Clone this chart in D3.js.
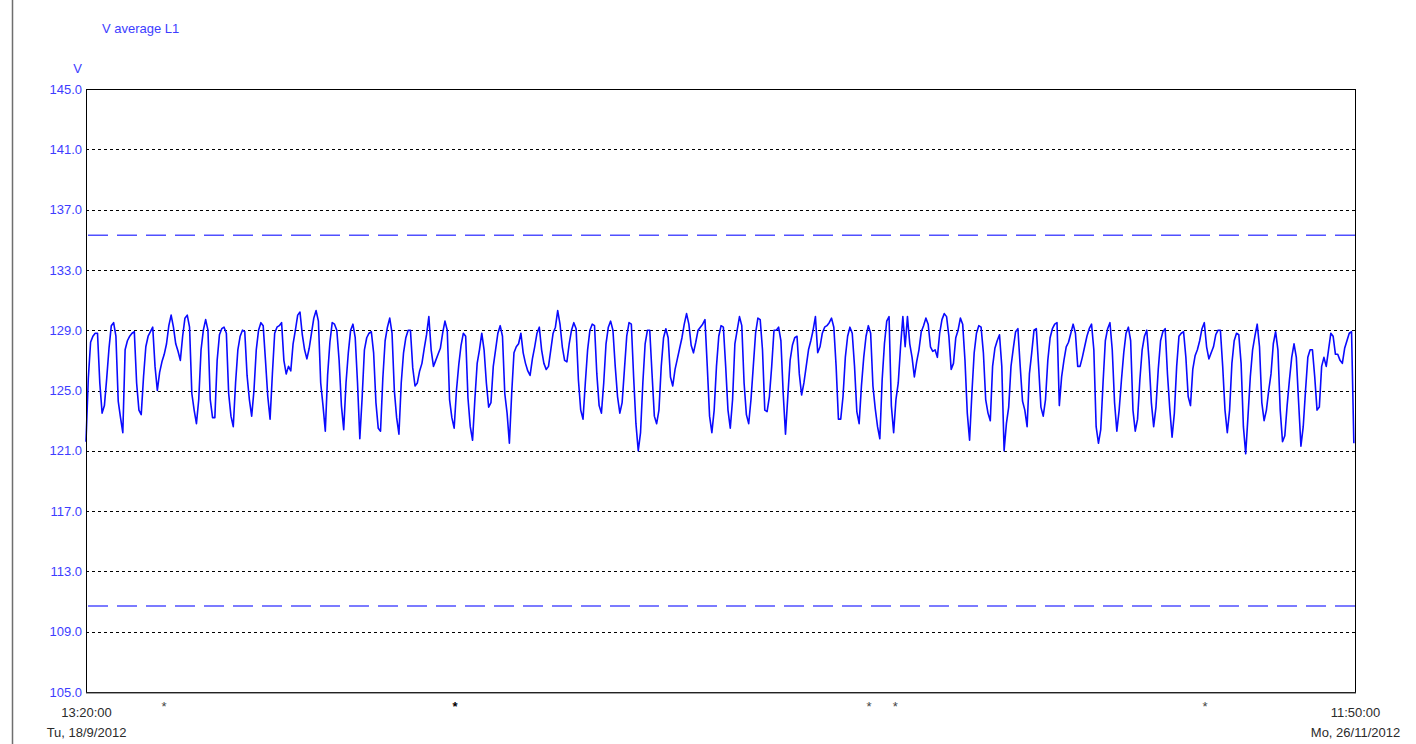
<!DOCTYPE html>
<html>
<head>
<meta charset="utf-8">
<script src="https://cdn.jsdelivr.net/npm/d3@7"></script>
<style>
  html, body { margin: 0; padding: 0; background: #ffffff; }
  svg { display: block; font-family: "Liberation Sans", Arial, sans-serif; }
</style>
</head>
<body>
<svg id="chart" width="1416" height="744"></svg>
<script>
// Recorded phase L1 voltage, 3-hour samples starting at the record start
const chartTitle = "V average L1";
const unitLabel = "V";
const rangeStart = new Date(2012, 8, 18, 13, 20, 0);
const rangeEnd = new Date(2012, 10, 26, 11, 50, 0);
const stepHours = 3;

// one row per day: 13:20, 16:20, 19:20, 22:20, 01:20, 04:20, 07:20, 10:20
const voltsL1 = [
  121.6, 125.8, 128.2, 128.6, 128.8, 128.8, 125.5, 123.5,
  124.0, 125.8, 127.8, 129.3, 129.5, 128.6, 124.3, 123.2,
  122.2, 127.7, 128.3, 128.6, 128.8, 128.9, 125.5, 123.7,
  123.4, 125.9, 127.9, 128.6, 128.9, 129.2, 126.6, 125.0,
  126.2, 126.9, 127.4, 128.1, 129.3, 130.0, 129.2, 128.1,
  127.6, 127.0, 128.6, 129.8, 130.0, 129.2, 124.8, 123.7,
  122.8, 124.4, 127.7, 129.0, 129.7, 129.0, 124.4, 123.2,
  123.2, 127.0, 128.7, 129.1, 129.2, 128.8, 124.8, 123.3,
  122.6, 125.5, 127.7, 128.6, 129.0, 128.9, 126.0, 124.4,
  123.3, 125.0, 127.7, 129.0, 129.5, 129.3, 127.0, 124.6,
  123.1, 126.1, 128.8, 129.2, 129.3, 129.5, 127.0, 126.1,
  126.6, 126.3, 128.1, 129.0, 130.0, 130.2, 128.7, 127.7,
  127.1, 127.8, 128.8, 129.8, 130.3, 129.6, 125.5, 124.0,
  122.3, 126.0, 128.2, 129.5, 129.4, 129.0, 127.0, 124.0,
  122.4, 125.5, 127.5, 129.0, 129.4, 128.5, 125.5, 121.8,
  124.5, 127.7, 128.5, 128.8, 128.9, 127.5, 124.2, 122.5,
  122.3, 125.8, 128.3, 129.2, 129.8, 128.8, 125.0, 123.2,
  122.1, 125.5, 127.5, 128.5, 129.0, 129.0, 126.5, 125.3,
  125.5, 126.3, 126.8, 127.8, 128.7, 129.9, 127.7, 126.6,
  127.0, 127.4, 127.8, 128.8, 129.6, 129.0, 124.4, 123.2,
  122.5, 125.0, 126.7, 128.0, 128.8, 128.6, 124.5, 122.6,
  121.7, 124.4, 126.8, 127.7, 128.8, 127.7, 125.5, 123.9,
  124.2, 126.6, 127.7, 128.8, 129.3, 128.6, 124.8, 123.5,
  121.5, 124.8, 127.5, 127.9, 128.1, 128.8, 127.5, 126.8,
  126.3, 126.0, 127.1, 127.9, 128.8, 129.2, 127.7, 126.8,
  126.4, 126.6, 127.7, 128.8, 129.2, 130.3, 129.4, 127.9,
  127.0, 126.9, 128.1, 129.0, 129.5, 129.1, 125.7, 123.7,
  123.1, 125.5, 127.7, 129.0, 129.4, 129.3, 126.1, 124.0,
  123.5, 125.5, 128.1, 129.2, 129.6, 129.0, 126.6, 124.6,
  123.5, 124.2, 126.4, 128.6, 129.5, 129.4, 125.9, 122.8,
  121.0, 122.2, 125.5, 128.1, 129.0, 129.0, 126.1, 123.3,
  122.8, 123.7, 126.6, 128.5, 129.1, 128.5, 125.9, 125.3,
  126.4, 127.1, 127.8, 128.5, 129.4, 130.1, 129.4, 128.0,
  127.5, 128.2, 129.0, 129.2, 129.4, 129.7, 126.6, 123.3,
  122.2, 123.7, 126.6, 128.6, 129.3, 129.2, 126.6, 123.7,
  122.5, 124.4, 128.1, 129.0, 129.9, 129.3, 125.5, 123.4,
  122.8, 124.4, 126.6, 128.8, 129.8, 129.7, 127.7, 123.7,
  123.6, 124.6, 126.6, 129.0, 129.0, 129.2, 128.3, 124.8,
  122.1, 124.6, 127.0, 128.0, 128.5, 128.6, 126.1, 124.7,
  125.5, 126.6, 127.7, 128.3, 129.0, 129.9, 127.5, 127.9,
  128.8, 129.2, 129.3, 129.5, 129.8, 129.2, 126.6, 123.1,
  123.1, 124.6, 127.2, 128.6, 129.2, 128.8, 126.6, 123.6,
  122.8, 125.3, 127.2, 128.6, 129.3, 128.8, 125.3, 123.8,
  122.6, 121.8, 125.7, 128.1, 129.6, 129.9, 124.0, 122.2,
  124.4, 125.5, 127.9, 129.9, 127.9, 129.9, 128.1, 127.2,
  125.9, 126.9, 127.7, 128.9, 129.3, 129.8, 129.4, 127.9,
  127.6, 127.7, 127.2, 128.8, 129.7, 130.1, 129.9, 128.6,
  126.4, 126.8, 128.5, 129.0, 129.8, 129.4, 127.0, 123.5,
  121.7, 124.8, 127.5, 128.8, 129.3, 129.2, 127.5, 124.4,
  123.5, 123.0, 126.6, 127.8, 128.3, 128.7, 126.6, 121.0,
  122.8, 123.9, 126.6, 127.8, 128.9, 129.1, 126.6, 124.3,
  123.7, 122.6, 126.1, 127.5, 129.0, 129.1, 126.6, 123.9,
  123.3, 124.4, 127.0, 128.5, 129.1, 129.4, 129.5, 124.0,
  125.9, 127.0, 127.9, 128.2, 128.8, 129.4, 128.8, 126.6,
  126.6, 127.2, 127.9, 128.6, 129.1, 129.4, 127.7, 122.6,
  121.5, 122.4, 125.5, 128.3, 129.1, 129.5, 127.7, 124.2,
  122.3, 123.7, 125.7, 127.5, 128.8, 129.2, 128.3, 123.7,
  122.3, 123.1, 125.7, 127.7, 128.6, 129.0, 127.0, 124.2,
  122.6, 123.9, 126.4, 128.3, 128.9, 129.1, 126.1, 123.8,
  121.9, 123.5, 126.6, 128.6, 128.8, 128.9, 127.2, 124.6,
  124.0, 126.4, 127.3, 127.7, 128.3, 129.1, 129.5, 127.9,
  127.1, 127.5, 127.9, 128.7, 129.0, 129.0, 126.6, 123.7,
  122.2, 123.7, 126.8, 128.3, 128.8, 128.7, 126.8, 122.6,
  120.8, 123.3, 125.9, 127.7, 128.6, 129.4, 127.9, 124.2,
  123.0, 123.7, 125.0, 126.1, 128.1, 128.9, 127.7, 123.7,
  121.6, 122.0, 124.0, 125.7, 127.2, 128.1, 127.2, 124.2,
  121.3, 122.6, 125.0, 127.2, 127.7, 127.7, 125.9, 123.7,
  123.9, 126.6, 127.2, 126.6, 127.7, 128.8, 128.6, 127.4,
  127.4, 127.0, 126.8, 127.8, 128.3, 128.8, 128.9, 121.5
];

const yTickValues = [145, 141, 137, 133, 129, 125, 121, 117, 113, 109, 105];
const limitValues = [135.3, 110.7];
const startLabels = ["13:20:00", "Tu, 18/9/2012"];
const endLabels = ["11:50:00", "Mo, 26/11/2012"];
const eventMarks = [
  { t: new Date(2012, 8, 22, 19, 0), strong: false },
  { t: new Date(2012, 9, 8, 14, 20), strong: true },
  { t: new Date(2012, 9, 31, 2, 20), strong: false },
  { t: new Date(2012, 10, 1, 12, 20), strong: false },
  { t: new Date(2012, 10, 18, 8, 20), strong: false }
];

const blueText = "#3d3dff";
const frame = { left: 86, right: 1355, top: 89, bottom: 692 };

const svg = d3.select("#chart");

const x = d3.scaleTime().domain([rangeStart, rangeEnd]).range([frame.left, frame.right]);
const y = d3.scaleLinear().domain([105, 145]).range([frame.bottom, frame.top]);

// page margin rule on the far left
svg.append("line")
  .attr("x1", 12.5).attr("x2", 12.5).attr("y1", 0).attr("y2", 744)
  .attr("stroke", "#6e6e6e").attr("stroke-width", 1.5);

// title and unit
svg.append("text").attr("x", 102).attr("y", 33)
  .attr("font-size", 13).attr("fill", blueText).text(chartTitle);
svg.append("text").attr("x", 82).attr("y", 73).attr("text-anchor", "end")
  .attr("font-size", 13).attr("fill", blueText).text(unitLabel);

// dotted horizontal grid
svg.append("g").selectAll("line")
  .data(yTickValues.filter(v => v !== 145 && v !== 105))
  .join("line")
  .attr("x1", frame.left).attr("x2", frame.right)
  .attr("y1", d => Math.round(y(d)) + 0.5).attr("y2", d => Math.round(y(d)) + 0.5)
  .attr("stroke", "#000").attr("stroke-width", 1.1)
  .attr("stroke-dasharray", "3,3");

// limit lines
svg.append("g").selectAll("line")
  .data(limitValues)
  .join("line")
  .attr("x1", frame.left + 2).attr("x2", frame.right)
  .attr("y1", d => y(d)).attr("y2", d => y(d))
  .attr("stroke", "#5050ff").attr("stroke-width", 1.5)
  .attr("stroke-dasharray", "20,9");

// voltage trace
const t0 = rangeStart.getTime();
const line = d3.line()
  .x((d, i) => x(new Date(t0 + i * stepHours * 3600000)))
  .y(d => y(d));
svg.append("path")
  .datum(voltsL1)
  .attr("d", line)
  .attr("fill", "none")
  .attr("stroke", "#0a0aff")
  .attr("stroke-width", 1.6)
  .attr("stroke-linejoin", "round");

// plot frame
svg.append("rect")
  .attr("x", frame.left + 0.5).attr("y", frame.top + 0.5)
  .attr("width", frame.right - frame.left).attr("height", frame.bottom - frame.top)
  .attr("fill", "none").attr("stroke", "#000").attr("stroke-width", 1);
svg.append("line")
  .attr("x1", frame.left).attr("x2", frame.right + 1)
  .attr("y1", frame.bottom + 1).attr("y2", frame.bottom + 1)
  .attr("stroke", "#444").attr("stroke-width", 1);

// y axis labels
const yAxis = d3.axisLeft(y)
  .tickValues(yTickValues)
  .tickSize(0)
  .tickPadding(4)
  .tickFormat(d3.format(".1f"));
const yg = svg.append("g").attr("transform", `translate(${frame.left},0)`).call(yAxis);
yg.select(".domain").remove();
yg.selectAll("text").attr("font-size", 13).attr("fill", blueText)
  .attr("font-family", "'Liberation Sans', Arial, sans-serif");

// x axis: start and end stamps
const xAxis = d3.axisBottom(x)
  .tickValues([rangeStart, rangeEnd])
  .tickSize(0)
  .tickFormat(() => "");
const xg = svg.append("g").attr("transform", `translate(0,${frame.bottom})`).call(xAxis);
xg.select(".domain").remove();
xg.selectAll(".tick text").each(function (d, i) {
  const lines = i === 0 ? startLabels : endLabels;
  const t = d3.select(this)
    .attr("y", 0).attr("dy", null)
    .attr("font-size", 13).attr("fill", "#2b2b2b")
    .attr("font-family", "'Liberation Sans', Arial, sans-serif");
  t.selectAll("tspan").data(lines).join("tspan")
    .attr("x", 0)
    .attr("y", (l, j) => 25 + j * 20)
    .text(l => l);
});

// event markers under the time axis
svg.append("g").selectAll("text")
  .data(eventMarks)
  .join("text")
  .attr("x", d => x(d.t))
  .attr("y", 711)
  .attr("text-anchor", "middle")
  .attr("font-size", 13)
  .attr("font-weight", d => d.strong ? "bold" : "normal")
  .attr("fill", d => d.strong ? "#000" : "#444")
  .text("*");
</script>
</body>
</html>
